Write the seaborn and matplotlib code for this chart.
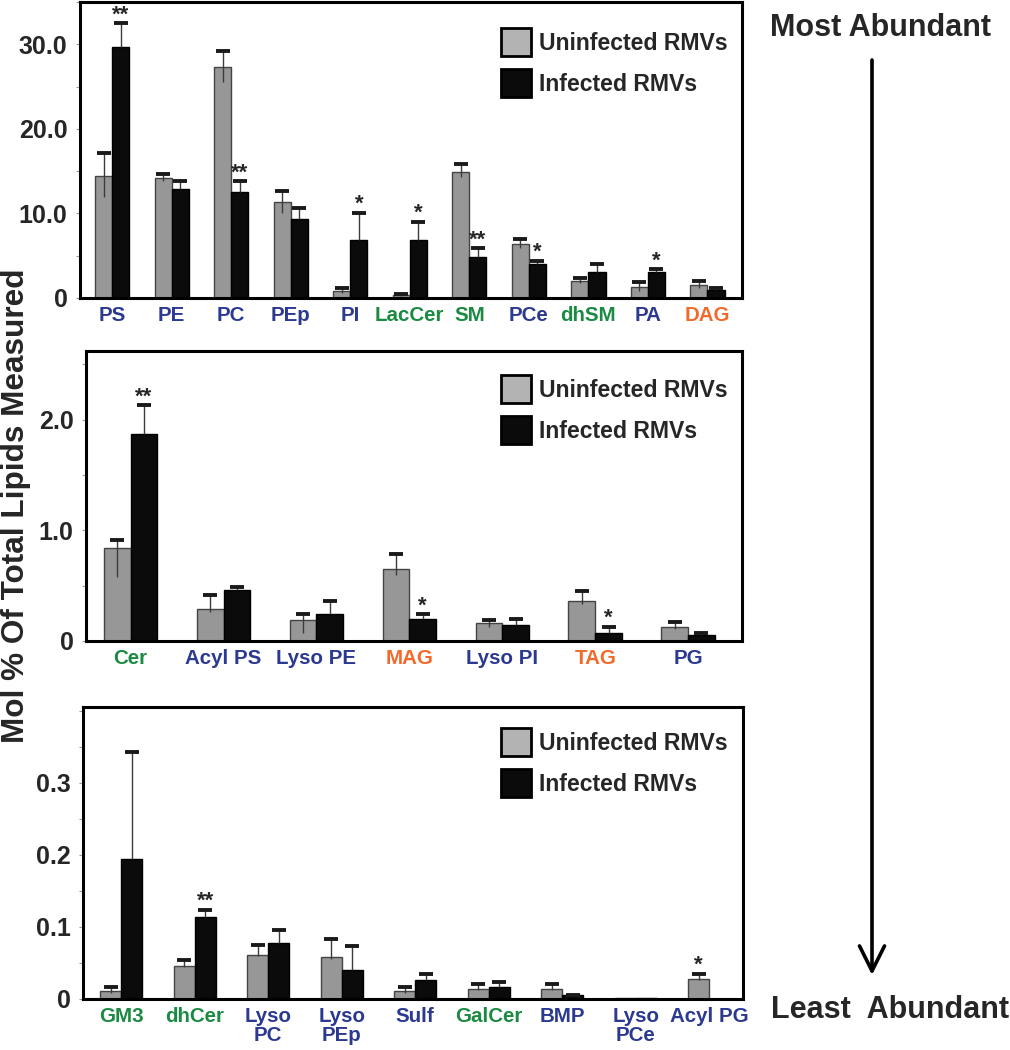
import numpy as np
import pandas as pd
import matplotlib
matplotlib.use("Agg")
import matplotlib.pyplot as plt
from matplotlib.patches import Patch, FancyArrowPatch
from matplotlib.ticker import MultipleLocator, FixedLocator
import seaborn as sns

sns.set_style("white")
plt.rcParams['font.family'] = ['Liberation Sans', 'DejaVu Sans']
plt.rcParams['font.weight'] = 'bold'

BLUE = '#2b3990'
GREEN = '#1b8a42'
ORANGE = '#f26a2b'
groups = ["Uninfected RMVs", "Infected RMVs"]

# ---- panel 1: most abundant
lipids_1 = ["PS", "PE", "PC", "PEp", "PI", "LacCer", "SM", "PCe", "dhSM", "PA", "DAG"]
colors_1 = [BLUE, BLUE, BLUE, BLUE, BLUE, GREEN, GREEN, BLUE, GREEN, BLUE, ORANGE]
uninf_1 = [14.4, 14.2, 27.3, 11.4, 0.85, 0.3, 14.9, 6.4, 2.0, 1.3, 1.5]
uninf_hi_1 = [2.7, 0.5, 1.9, 1.3, 0.3, 0.2, 0.9, 0.6, 0.35, 0.6, 0.5]
uninf_lo_1 = [2.5, 0.4, 1.8, 1.3, 0.2, 0.1, 0.6, 0.5, 0.2, 0.5, 0.3]
inf_1 = [29.7, 12.9, 12.5, 9.3, 6.8, 6.8, 4.9, 4.0, 3.1, 3.1, 0.95]
inf_hi_1 = [2.8, 0.9, 1.3, 1.3, 3.3, 2.2, 1.0, 0.4, 0.9, 0.3, 0.25]
stars_u_1 = ["", "", "", "", "", "", "", "", "", "", ""]
stars_i_1 = ["**", "", "**", "", "*", "*", "**", "*", "", "*", ""]

# ---- panel 2
lipids_2 = ["Cer", "Acyl PS", "Lyso PE", "MAG", "Lyso PI", "TAG", "PG"]
colors_2 = [GREEN, BLUE, BLUE, ORANGE, BLUE, ORANGE, BLUE]
uninf_2 = [0.84, 0.29, 0.19, 0.65, 0.16, 0.36, 0.13]
uninf_hi_2 = [0.07, 0.13, 0.05, 0.14, 0.03, 0.09, 0.04]
uninf_lo_2 = [0.26, 0.03, 0.12, 0.05, 0.03, 0.03, 0.02]
inf_2 = [1.87, 0.46, 0.24, 0.20, 0.145, 0.07, 0.055]
inf_hi_2 = [0.26, 0.03, 0.12, 0.04, 0.055, 0.06, 0.015]
stars_u_2 = ["", "", "", "", "", "", ""]
stars_i_2 = ["**", "", "", "*", "", "*", ""]

# ---- panel 3: least abundant
lipids_3 = ["GM3", "dhCer", "Lyso\nPC", "Lyso\nPEp", "Sulf", "GalCer", "BMP", "Lyso\nPCe", "Acyl PG"]
colors_3 = [GREEN, GREEN, BLUE, BLUE, BLUE, GREEN, BLUE, BLUE, BLUE]
uninf_3 = [0.011, 0.046, 0.061, 0.058, 0.011, 0.014, 0.014, 0.002, 0.028]
uninf_hi_3 = [0.006, 0.008, 0.014, 0.025, 0.006, 0.007, 0.007, 0.0, 0.007]
uninf_lo_3 = [0.002, 0.002, 0.002, 0.002, 0.002, 0.002, 0.002, 0.0, 0.002]
inf_3 = [0.194, 0.114, 0.078, 0.040, 0.026, 0.016, 0.005, 0.001, 0.0005]
inf_hi_3 = [0.149, 0.010, 0.018, 0.034, 0.009, 0.008, 0.0005, 0.0, 0.0]
stars_u_3 = ["", "", "", "", "", "", "", "", "*"]
stars_i_3 = ["", "**", "", "", "", "", "", "", ""]

W, H = 1010, 1050
fig = plt.figure(figsize=(W / 100, H / 100), dpi=100)


def px_axes(left, top, right, bottom):
    return fig.add_axes([left / W, 1 - bottom / H, (right - left) / W, (bottom - top) / H])


def draw_panel(ax, lipids, colors, uninf, u_hi, u_lo, inf, i_hi, st_u, st_i,
               ylim, yticks, ylabels, minor, xlim, leg_xy):
    df = pd.DataFrame({
        "lipid": lipids * 2,
        "value": uninf + inf,
        "group": [groups[0]] * len(lipids) + [groups[1]] * len(lipids),
    })
    sns.barplot(data=df, x="lipid", y="value", hue="group", order=lipids, hue_order=groups,
                palette=['#979797', '#0b0b0b'], saturation=1, width=0.575, errorbar=None,
                legend=False, ax=ax, zorder=2)
    for cont, ec in zip(ax.containers, ['#444444', '#000000']):
        for b in cont:
            b.set_edgecolor(ec)
            b.set_linewidth(1)

    series = [(uninf, u_lo, u_hi, st_u), (inf, [0] * len(inf), i_hi, st_i)]
    for cont, (vals, lo, hi, stars) in zip(ax.containers, series):
        xs = np.array([b.get_x() + b.get_width() / 2 for b in cont])
        vals, lo, hi = np.array(vals), np.array(lo), np.array(hi)
        m = hi > 0
        # whisker (no caps) then a single cap on top only
        ax.errorbar(xs[m], vals[m], yerr=[lo[m], hi[m]], fmt='none', ecolor='#3c3c3c',
                    elinewidth=1, capsize=0, zorder=3)
        ax.plot(xs[m], (vals + hi)[m], ls='none', marker='_', ms=10, mew=2.8,
                color='#1a1a1a', zorder=4)
        for x, v, h, s in zip(xs, vals, hi, stars):
            if s:
                ax.annotate(s, (x, v + h), xytext=(0, 2), textcoords='offset points',
                            ha='center', va='baseline', fontsize=16, fontweight='bold')

    ax.set_xlim(*xlim)
    ax.set_ylim(*ylim)
    ax.set_xlabel("")
    ax.set_ylabel("")
    ax.yaxis.set_major_locator(FixedLocator(yticks))
    ax.set_yticklabels(ylabels, fontsize=18, fontweight='bold')
    ax.yaxis.set_minor_locator(MultipleLocator(minor))
    ax.tick_params(axis='y', which='both', left=True, length=3, width=0.8,
                   color='#999999', direction='out', pad=6)
    ax.tick_params(axis='x', length=0, pad=6)
    ax.set_xticks(range(len(lipids)))
    ax.set_xticklabels(lipids, fontsize=14.8, fontweight='bold', linespacing=0.95)
    for lab, c in zip(ax.get_xticklabels(), colors):
        lab.set_color(c)
    for sp in ax.spines.values():
        sp.set_visible(True)
        sp.set_color('black')
        sp.set_linewidth(2.2)

    handles = [Patch(facecolor='#b3b3b3', edgecolor='black', linewidth=2),
               Patch(facecolor='#0b0b0b', edgecolor='black', linewidth=2)]
    ax.legend(handles, groups, loc='upper left', bbox_to_anchor=leg_xy, frameon=False,
              fontsize=16.6, handlelength=1.3, handleheight=1.5, handletextpad=0.35,
              labelspacing=0.55, borderpad=0, borderaxespad=0)


ax1 = px_axes(80, 2, 742, 298)
draw_panel(ax1, lipids_1, colors_1, uninf_1, uninf_hi_1, uninf_lo_1, inf_1, inf_hi_1,
           stars_u_1, stars_i_1, (0, 35), [0, 10, 20, 30], ["0", "10.0", "20.0", "30.0"],
           5, (-0.54, 10.58), (0.636, 0.912))

ax2 = px_axes(86, 351, 742, 641)
draw_panel(ax2, lipids_2, colors_2, uninf_2, uninf_hi_2, uninf_lo_2, inf_2, inf_hi_2,
           stars_u_2, stars_i_2, (0, 2.62), [0, 1, 2], ["0", "1.0", "2.0"],
           0.5, (-0.48, 6.58), (0.633, 0.917))

ax3 = px_axes(83, 707, 743, 999)
draw_panel(ax3, lipids_3, colors_3, uninf_3, uninf_hi_3, uninf_lo_3, inf_3, inf_hi_3,
           stars_u_3, stars_i_3, (0, 0.405), [0, 0.1, 0.2, 0.3], ["0", "0.1", "0.2", "0.3"],
           0.05, (-0.52, 8.46), (0.633, 0.928))

fig.text(16 / W, 1 - 506 / H, "Mol % Of Total Lipids Measured", rotation=90,
         ha='center', va='center', fontsize=22.7, fontweight='bold')

fig.text(881 / W, 1 - 28 / H, "Most Abundant", ha='center', va='center',
         fontsize=22, fontweight='bold')
fig.text(890 / W, 1 - 1010 / H, "Least  Abundant", ha='center', va='center',
         fontsize=22, fontweight='bold')
arrow = FancyArrowPatch((872 / W, 1 - 60 / H), (872 / W, 1 - 975 / H),
                        transform=fig.transFigure, arrowstyle='->,head_length=0.9,head_width=0.45',
                        mutation_scale=20, lw=2.6, color='black', shrinkA=0, shrinkB=0)
fig.add_artist(arrow)

fig.savefig("out.png", dpi=100)
